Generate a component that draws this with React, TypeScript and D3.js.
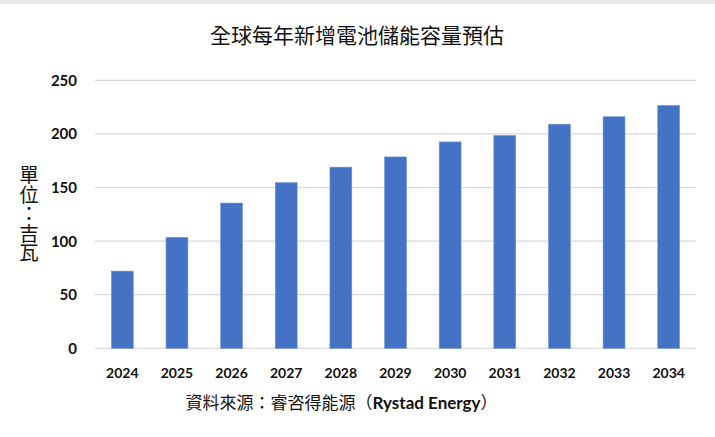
import React from "react";
import * as d3 from "d3";

const years = ["2024", "2025", "2026", "2027", "2028", "2029", "2030", "2031", "2032", "2033", "2034"];
const capacity = [72, 103.5, 135.5, 154.5, 169, 178.5, 192.5, 198.5, 209, 216, 226.5];
const yTicks = [0, 50, 100, 150, 200, 250];
const title = "全球每年新增電池儲能容量預估";
const yLabel = "單位：吉瓦";
const sourceCjk = "資料來源：睿咨得能源（";
const sourceLatin = "Rystad Energy";
const sourceEnd = "）";

const W = 715;
const H = 437;
const plot = { left: 95, right: 696, top: 80.3, bottom: 348.3 };

export default function App() {
  const x = d3.scaleBand<string>().domain(years).range([plot.left, plot.right]).paddingInner(0.6).paddingOuter(0.3);
  const y = d3.scaleLinear().domain([0, 250]).range([plot.bottom, plot.top]);
  const bw = x.bandwidth();
  const latin = "Lato, 'Open Sans', sans-serif";
  const cjk = "'Noto Sans CJK TC', 'Noto Sans CJK SC', sans-serif";

  return (
    <svg width={W} height={H} style={{ position: "absolute", left: 0, top: 0, background: "#fff" }}>
      <rect x={0} y={0} width={W} height={4} fill="#ebebeb" />
      <text x={357} y={43} textAnchor="middle" fontFamily={cjk} fontSize={21} fill="#111">
        {title}
      </text>
      {yTicks.map((t) => (
        <g key={t}>
          <line x1={plot.left} x2={plot.right} y1={y(t)} y2={y(t)} stroke="#d9d9d9" strokeWidth={1.2} />
          <text x={77} y={y(t)} dy="0.36em" textAnchor="end" fontFamily={latin} fontWeight={700} fontSize={15} fill="#111">
            {t}
          </text>
        </g>
      ))}
      {years.map((yr, i) => (
        <rect
          key={yr}
          x={x(yr)!}
          y={y(capacity[i])}
          width={bw}
          height={y(0) - y(capacity[i])}
          fill="#4472C4"
          stroke="#6f93d6"
          strokeWidth={0.6}
        />
      ))}
      {years.map((yr) => (
        <text
          key={yr}
          x={x(yr)! + bw / 2}
          y={373}
          dy="0.36em"
          textAnchor="middle"
          fontFamily={latin}
          fontWeight={700}
          fontSize={14}
          fill="#111"
        >
          {yr}
        </text>
      ))}
      <text
        x={29}
        y={165}
        style={{ writingMode: "vertical-rl" }}
        fontFamily={cjk}
        fontSize={19.5}
        fill="#111"
      >
        {yLabel}
      </text>
      <text x={341.5} y={403} dy="0.36em" textAnchor="middle" fontFamily={cjk} fontSize={17} fill="#111">
        {sourceCjk}
        <tspan fontFamily={latin} fontWeight={700}>{sourceLatin}</tspan>
        {sourceEnd}
      </text>
    </svg>
  );
}
